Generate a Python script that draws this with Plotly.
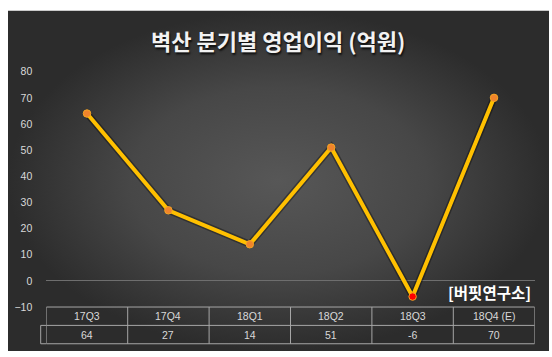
import plotly.graph_objects as go

# ---- data ----
quarters = ["17Q3", "17Q4", "18Q1", "18Q2", "18Q3", "18Q4 (E)"]
op_profit = [64, 27, 14, 51, -6, 70]
y_ticks = [-10, 0, 10, 20, 30, 40, 50, 60, 70, 80]
title_text = "벽산 분기별 영업이익 (억원)"
source_text = "[버핏연구소]"

W, H = 552, 357


def py(y):
    return 1 - y / H


def px(x):
    return x / W


fig = go.Figure()

# background panel with radial gradient (pixel-space helper axes)
fig.add_trace(go.Scatter(
    x=[8, 549, 549, 8, 8], y=[5, 5, 357, 357, 5],
    xaxis="x", yaxis="y", mode="lines", line=dict(width=0),
    fill="toself",
    fillgradient=dict(type="radial",
                      colorscale=[[0, "#575757"], [0.55, "#474747"], [1, "#2c2c2c"]]),
    hoverinfo="skip", showlegend=False,
))

marker_colors = ["#FF0000" if v < 0 else "#F0842C" for v in op_profit]

# subtle shadow under the line
fig.add_trace(go.Scatter(
    x=quarters, y=op_profit, xaxis="x2", yaxis="y2", mode="lines",
    line=dict(color="rgba(0,0,0,0.35)", width=7),
    hoverinfo="skip", showlegend=False,
))
fig.add_trace(go.Scatter(
    x=quarters, y=op_profit, xaxis="x2", yaxis="y2", mode="lines+markers",
    line=dict(color="#FFC000", width=4),
    marker=dict(size=7.5, color=marker_colors, line=dict(color="#F5A623", width=1)),
    showlegend=False,
))

shapes = []
lc = "#A6A6A6"
row_top, row_mid, row_bot = 311.5, 330.5, 349.5
for yy in (row_top, row_mid, row_bot):
    shapes.append(dict(type="line", xref="x2", yref="paper",
                       x0=-0.5, x1=len(quarters) - 0.5, y0=py(yy), y1=py(yy),
                       line=dict(color=lc, width=1)))
for i in range(len(quarters) + 1):
    shapes.append(dict(type="line", xref="x2", yref="paper",
                       x0=i - 0.5, x1=i - 0.5, y0=py(row_top), y1=py(row_bot),
                       line=dict(color=lc, width=1)))
# legend-key cell at the left of the value row
for yy in (row_mid, row_bot):
    shapes.append(dict(type="line", xref="paper", yref="paper",
                       x0=px(40.7), x1=px(46.3), y0=py(yy), y1=py(yy),
                       line=dict(color=lc, width=1)))
shapes.append(dict(type="line", xref="paper", yref="paper",
                   x0=px(40.7), x1=px(40.7), y0=py(row_mid), y1=py(row_bot),
                   line=dict(color=lc, width=1)))

annotations = []
tfont = dict(family="Liberation Sans, Arial, sans-serif", size=10.5, color="#D9D9D9")
for q, v in zip(quarters, op_profit):
    annotations.append(dict(x=q, y=py((row_top + row_mid) / 2), xref="x2", yref="paper",
                            text=q, showarrow=False, font=tfont,
                            xanchor="center", yanchor="middle"))
    annotations.append(dict(x=q, y=py((row_mid + row_bot) / 2), xref="x2", yref="paper",
                            text=str(v), showarrow=False, font=tfont,
                            xanchor="center", yanchor="middle"))

annotations.append(dict(
    x=px(278), y=py(35), xref="paper", yref="paper", text=title_text, showarrow=False,
    xanchor="center", yanchor="middle",
    font=dict(family="Noto Sans CJK KR", size=22, color="#F2F2F2", weight="bold",
              shadow="1px 2px 2px rgba(0,0,0,0.8)"),
))
annotations.append(dict(
    x=px(489.5), y=py(295.5), xref="paper", yref="paper", text=source_text, showarrow=False,
    xanchor="center", yanchor="middle",
    font=dict(family="Noto Sans CJK KR", size=15.5, color="#FFFFFF", weight="bold"),
))

fig.update_layout(
    width=W, height=H,
    margin=dict(l=0, r=0, t=0, b=0),
    paper_bgcolor="#FFFFFF",
    plot_bgcolor="rgba(0,0,0,0)",
    xaxis=dict(domain=[0, 1], range=[0, W], visible=False, fixedrange=True),
    yaxis=dict(domain=[0, 1], range=[H, 0], visible=False, fixedrange=True),
    xaxis2=dict(domain=[px(46.3), px(534.7)], anchor="y2", type="category",
                categoryorder="array", categoryarray=quarters,
                range=[-0.5, len(quarters) - 0.5],
                showticklabels=False, showgrid=False, zeroline=False, showline=False,
                ticks=""),
    yaxis2=dict(domain=[py(row_top), py(68)], anchor="x2", range=[-10, 80],
                tickvals=y_ticks, showgrid=False, zeroline=True,
                zerolinecolor="#6E6E6E", zerolinewidth=1, showline=False, ticks="",
                ticklabelstandoff=13,
                tickfont=dict(family="Liberation Sans, Arial, sans-serif", size=10.5,
                              color="#D9D9D9")),
    shapes=shapes,
    annotations=annotations,
    showlegend=False,
)

fig.write_html(
    "out.html",
    config={"displayModeBar": False},
    post_script="document.body.style.margin='0';document.body.style.overflow='hidden';",
)
